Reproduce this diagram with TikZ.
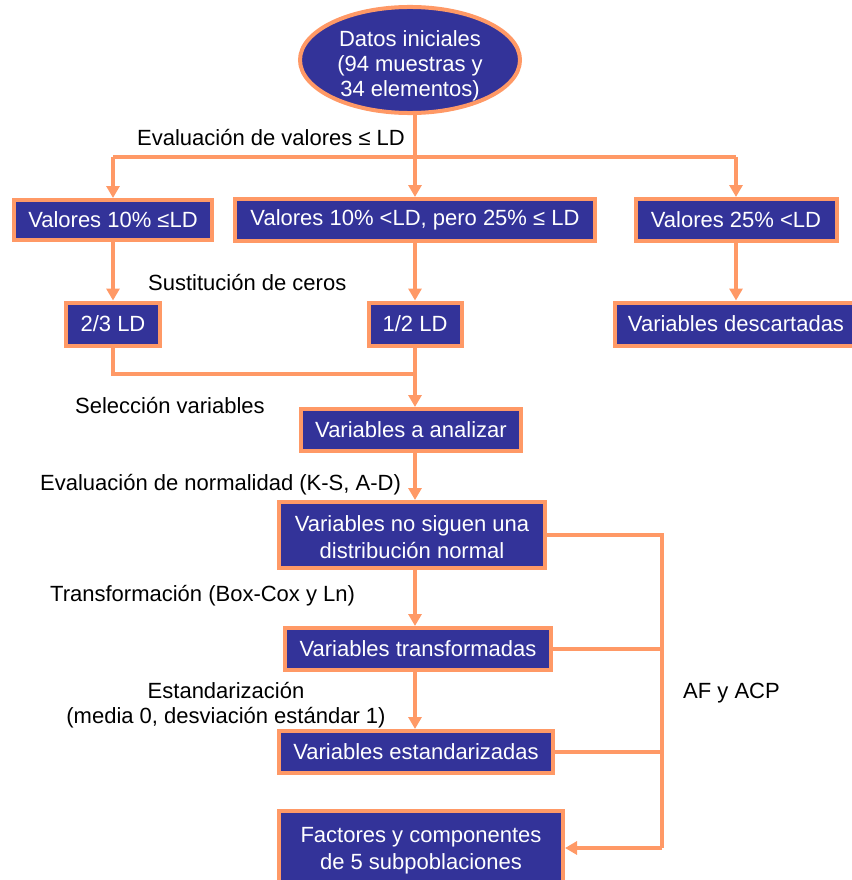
\documentclass[tikz,border=0pt]{standalone}
\usepackage{fontspec}
\setmainfont{Liberation Sans}
\usetikzlibrary{arrows.meta,shapes.geometric}
\definecolor{boxblue}{HTML}{333399}
\definecolor{edgeor}{HTML}{FF9966}
\newcommand{\mlines}[2]{\raisebox{#1}[\height][\depth]{\begin{tabular}{@{}c@{}}#2\end{tabular}}}
\begin{document}
\begin{tikzpicture}[x=1pt,y=-1pt,
  box/.style={draw=edgeor,line width=4pt,fill=boxblue,text=white,inner sep=0pt,align=center,font=\fontsize{22}{25}\selectfont},
  lab/.style={anchor=base west,inner sep=0pt,align=left,font=\fontsize{22}{25}\selectfont},
  conn/.style={draw=edgeor,line width=4pt},
  arr/.style={conn,-{Triangle[length=12pt,width=13pt]}}]
\useasboundingbox (0,0) rectangle (851,880);
\coordinate (sp) at (415,0);
\coordinate (hl) at (0,157);
\coordinate (jn) at (415,374);
\coordinate (rx) at (662,0);
% nodes
\node[box,ellipse,minimum width=220pt,minimum height=99pt] (ell) at (410,60) {\mlines{-7pt}{Datos iniciales\\(94 muestras y\\34 elementos)}};
\node[box,minimum width=198pt,minimum height=40pt] (b1) at (113,220) {Valores 10\% ≤LD};
\node[box,minimum width=360pt,minimum height=42pt] (b2) at (415,220) {Valores 10\% <LD, pero 25\% ≤ LD};
\node[box,minimum width=201pt,minimum height=42pt] (b3) at (736,220) {Valores 25\% <LD};
\node[box,minimum width=94pt,minimum height=43pt] (c1) at (113,324) {2/3 LD};
\node[box,minimum width=93pt,minimum height=43pt] (c2) at (415,324) {1/2 LD};
\node[box,minimum width=242pt,minimum height=43pt] (c3) at (736,324) {Variables descartadas};
\node[box,minimum width=220pt,minimum height=42pt] (d) at (411,430) {Variables a analizar};
\node[box,minimum width=266pt,minimum height=66pt,font=\fontsize{22}{27}\selectfont] (e) at (412,535) {\mlines{-5pt}{Variables no siguen una\\distribución normal}};
\node[box,minimum width=266pt,minimum height=42pt] (f) at (418,649) {Variables transformadas};
\node[box,minimum width=274pt,minimum height=42pt] (g) at (416,752) {Variables estandarizadas};
\node[box,minimum width=284pt,minimum height=74pt,font=\fontsize{22}{27}\selectfont] (h) at (421,848) {\mlines{-3pt}{Factores y componentes\\de 5 subpoblaciones}};
% labels
\node[lab] (l1) at (137,145) {Evaluación de valores ≤ LD};
\node[lab] (l2) at (148,290) {Sustitución de ceros};
\node[lab] (l3) at (75,413) {Selección variables};
\node[lab] (l4) at (40,490) {Evaluación de normalidad (K-S, A-D)};
\node[lab] (l5) at (50,601) {Transformación (Box-Cox y Ln)};
\node[lab,align=center,anchor=base] (l6) at (226,723) {Estandarización\\(media 0, desviación estándar 1)};
\node[lab] (l7) at (683,698) {AF y ACP};
% connectors
\draw[conn] (ell.south -| sp) -- (hl -| sp);
\draw[conn] (hl -| b1.north) -- (hl -| b3.north);
\draw[arr] (hl -| b1.north) -- (b1.north);
\draw[arr] (hl -| b2.north) -- (b2.north);
\draw[arr] (hl -| b3.north) -- (b3.north);
\draw[arr] (b1.south) -- (c1.north);
\draw[arr] (b2.south) -- (c2.north);
\draw[arr] (b3.south) -- (c3.north);
\draw[conn] (c1.south) |- (jn);
\draw[arr] (c2.south) -- (d.north -| sp);
\draw[arr] (d.south -| sp) -- (e.north -| sp);
\draw[arr] (e.south -| sp) -- (f.north -| sp);
\draw[arr] (f.south -| sp) -- (g.north -| sp);
\draw[conn] (e.east) -- (e.east -| rx) -- (rx |- h.east);
\draw[conn] (f.east) -- (f.east -| rx);
\draw[conn] (g.east) -- (g.east -| rx);
\draw[arr] (rx |- h.east) -- (h.east);
\end{tikzpicture}
\end{document}
